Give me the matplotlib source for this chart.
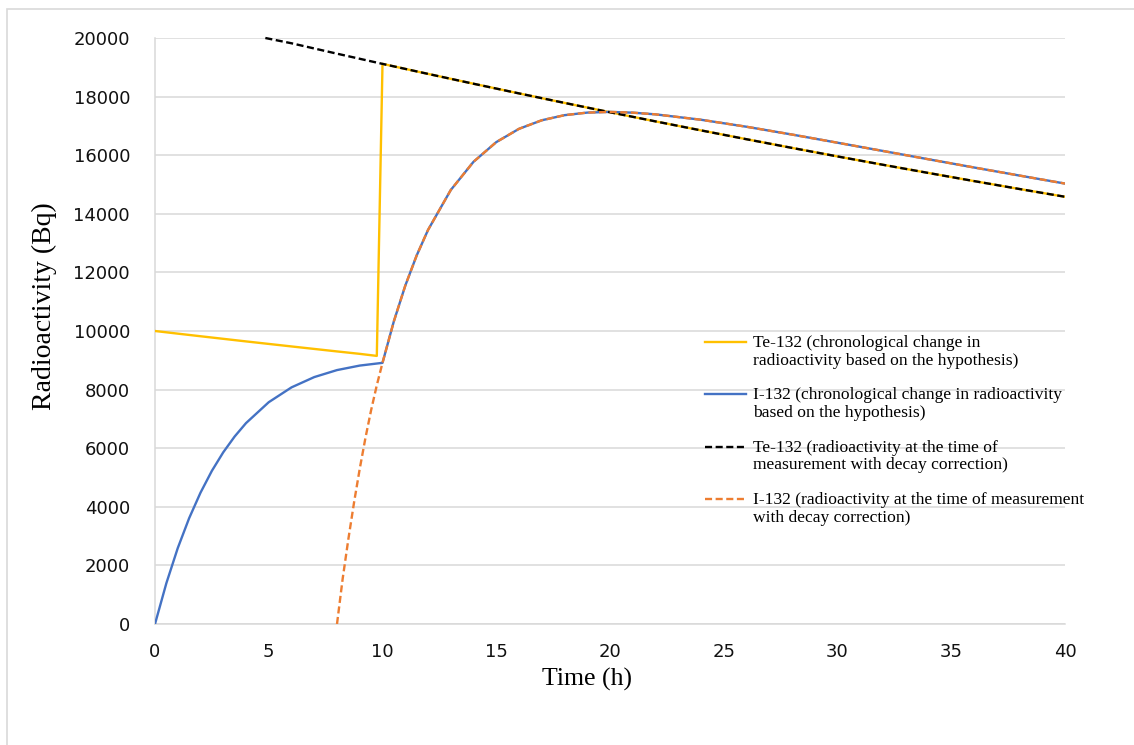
import matplotlib
matplotlib.use("Agg")
import numpy as np
import matplotlib.pyplot as plt
from matplotlib.patches import Rectangle
from matplotlib.legend_handler import HandlerLine2D

# ---- data ----
te_hyp_time = [0, 1, 2, 3, 4, 5, 6, 7, 8, 9, 9.75, 10, 12, 14, 16, 18, 20, 22, 24,
               26, 28, 30, 32, 34, 36, 38, 40]
te_hyp_vals = [10000, 9910, 9821, 9733, 9645, 9559, 9473, 9388, 9303, 9220, 9150,
               19117, 18775, 18439, 18109, 17785, 17466, 17154, 16847, 16545,
               16249, 15958, 15673, 15393, 15117, 14846, 14581]

i_hyp_time = [0, 0.5, 1, 1.5, 2, 2.5, 3, 3.5, 4, 5, 6, 7, 8, 9, 10, 10.5, 11, 11.5,
              12, 13, 14, 15, 16, 17, 18, 19, 20, 21, 22, 24, 26, 28, 30, 32, 34,
              36, 38, 40]
i_hyp_vals = [0, 1394, 2590, 3610, 4482, 5227, 5860, 6398, 6856, 7570, 8076, 8427,
              8666, 8820, 8913, 10333, 11545, 12574, 13447, 14811, 15775, 16446,
              16900, 17192, 17366, 17454, 17478, 17452, 17394, 17210, 16971, 16705,
              16426, 16144, 15861, 15581, 15305, 15032]

te_corr_time = [4.85, 6, 8, 10, 12, 14, 16, 18, 20, 22, 24, 26, 28, 30, 32, 34, 36,
                38, 40]
te_corr_vals = [20000, 19820, 19465, 19117, 18775, 18439, 18109, 17785, 17466,
                17154, 16847, 16545, 16249, 15958, 15673, 15393, 15117, 14846, 14581]

i_corr_time = [8, 8.25, 8.5, 8.75, 9, 9.25, 9.5, 9.75, 10, 10.5, 11, 11.5, 12, 13,
               14, 15, 16, 17, 18, 19, 20, 21, 22, 24, 26, 28, 30, 32, 34, 36, 38,
               40]
i_corr_vals = [0, 1550, 2900, 4150, 5300, 6350, 7300, 8150, 8913, 10333, 11545,
               12574, 13447, 14811, 15775, 16446, 16900, 17192, 17366, 17454,
               17478, 17452, 17394, 17210, 16971, 16705, 16426, 16144, 15861,
               15581, 15305, 15032]

labels = [
    "Te-132 (chronological change in\nradioactivity based on the hypothesis)",
    "I-132 (chronological change in radioactivity\nbased on the hypothesis)",
    "Te-132 (radioactivity at the time of\nmeasurement with decay correction)",
    "I-132 (radioactivity at the time of measurement\nwith decay correction)",
]
x_ticks = [0, 5, 10, 15, 20, 25, 30, 35, 40]
y_ticks = [0, 2000, 4000, 6000, 8000, 10000, 12000, 14000, 16000, 18000, 20000]


class FirstLineHandler(HandlerLine2D):
    """Legend line aligned with the first line of a two-line label."""
    def __init__(self, dy, **kw):
        super().__init__(**kw)
        self.dy = dy

    def create_artists(self, *args, **kwargs):
        arts = super().create_artists(*args, **kwargs)
        for a in arts:
            a.set_ydata(np.asarray(a.get_ydata(), dtype=float) + self.dy)
        return arts


# ---- figure ----
W, H = 1134, 745
fig = plt.figure(figsize=(W / 100, H / 100), dpi=100)
ax = fig.add_axes([155 / W, 1 - 624 / H, 910 / W, 586 / H])

grid_c = "#d9d9d9"
fig.patches.append(Rectangle((7 / W, -0.05), 1.2, 1 - 9 / H + 0.05,
                             transform=fig.transFigure, facecolor="none",
                             edgecolor=grid_c, linewidth=1.2, zorder=0))

lw = 1.7
l1, = ax.plot(te_hyp_time, te_hyp_vals, color="#FFC000", lw=lw, label=labels[0], zorder=3)
l2, = ax.plot(i_hyp_time, i_hyp_vals, color="#4472C4", lw=lw, label=labels[1], zorder=3)
l3, = ax.plot(te_corr_time, te_corr_vals, color="black", lw=lw, dashes=(3, 1.5),
              label=labels[2], zorder=4, clip_on=False)
l4, = ax.plot(i_corr_time, i_corr_vals, color="#ED7D31", lw=lw, dashes=(3, 1.5),
              label=labels[3], zorder=4)

ax.set_xlim(0, 40)
ax.set_ylim(0, 20000)
ax.set_xticks(x_ticks)
ax.set_yticks(y_ticks)
ax.tick_params(length=0, labelsize=13, colors="#111111")
ax.tick_params(axis="y", pad=18)
ax.tick_params(axis="x", pad=14)
ax.grid(axis="y", color=grid_c, lw=1.1)
ax.set_axisbelow(True)
for s in ["top", "right"]:
    ax.spines[s].set_visible(False)
for s in ["left", "bottom"]:
    ax.spines[s].set_color(grid_c)
    ax.spines[s].set_linewidth(1.1)

serif = ["Liberation Serif", "DejaVu Serif"]
ax.set_xlabel("Time (h)", fontsize=18.5, family=serif)
ax.xaxis.set_label_coords((587 - 155) / 910, (624 - 668) / 586)
ax.set_ylabel("Radioactivity (Bq)", fontsize=20, family=serif)
ax.yaxis.set_label_coords((57 - 155) / 910, (624 - 306) / 586)

fs = 12.6
dy = 7.0  # points: half a text line
hmap = {l: FirstLineHandler(dy) for l in (l1, l2, l3, l4)}
leg = ax.legend(handles=[l1, l2, l3, l4], loc="upper left",
                bbox_to_anchor=((705 - 155) / 910, (624 - 335) / 586),
                frameon=False, prop={"family": serif, "size": fs},
                handlelength=2.35, handletextpad=0.4, labelspacing=1.07,
                borderpad=0, borderaxespad=0, handler_map=hmap)
for t in leg.get_texts():
    t.set_linespacing(1.14)

fig.savefig("out.png", dpi=100)
